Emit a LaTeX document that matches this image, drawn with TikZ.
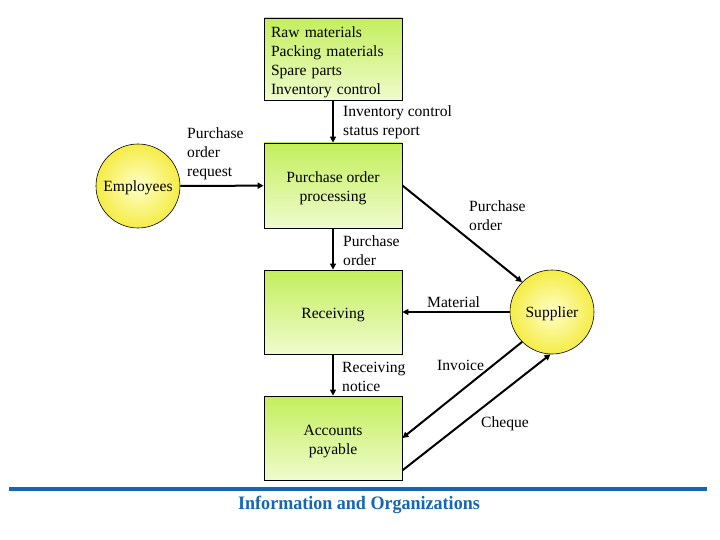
\documentclass[tikz,border=0pt]{standalone}
\usepackage{fontspec}
\usepackage{graphicx}
\setmainfont{Liberation Serif}
\usetikzlibrary{arrows.meta}
\definecolor{boxtop}{RGB}{196,238,92}
\definecolor{boxbot}{RGB}{238,252,205}
\definecolor{ballin}{RGB}{255,255,200}
\definecolor{ballout}{RGB}{245,236,70}
\definecolor{titleblue}{RGB}{22,102,180}
\newcommand{\boxtxt}[2]{\raisebox{-3pt}[\height][\depth]{\begin{tabular}{@{}#1@{}}#2\end{tabular}}}
\newcommand{\balltxt}[1]{\raisebox{-2pt}[\height][\depth]{#1}}
\begin{document}
\begin{tikzpicture}[x=1pt,y=-1pt,
  font=\fontsize{15.6}{19}\selectfont,
  proc/.style={draw=black, line width=0.8pt, top color=boxtop, bottom color=boxbot,
    minimum width=138pt, minimum height=84pt, inner sep=0pt, align=center},
  ent/.style={circle, draw=black, line width=0.6pt, inner color=ballin, outer color=ballout,
    minimum size=84pt, inner sep=0pt},
  flow/.style={line width=2pt, -{Triangle[length=6pt,width=6pt]}},
  lab/.style={anchor=north west, inner sep=0pt, align=left}]
\fill[white] (0,0) rectangle (720,540);
\useasboundingbox (0,0) rectangle (720,540);

\node[proc, minimum height=82pt, text width=124pt, align=left] (inv) at (333,59)
  {\boxtxt{l}{Raw materials\\Packing materials\\Spare parts\\Inventory control}};
\node[proc, minimum height=85pt] (po) at (333,185.5) {\boxtxt{c}{Purchase order\\processing}};
\node[proc] (rec) at (333,312) {\boxtxt{c}{Receiving}};
\node[proc] (ap) at (333,438) {\boxtxt{c}{Accounts\\payable}};
\node[ent] (emp) at (138,186) {\balltxt{Employees}};
\node[ent] (sup) at (552,312) {\balltxt{Supplier}};

\draw[flow] (emp) -- (po);
\draw[flow] (inv) -- (po);
\draw[flow] (po) -- (rec);
\draw[flow] (rec) -- (ap);
\draw[flow] (po.east) -- (sup.135);
\draw[flow] (sup) -- (rec);
\draw[flow] (sup.225) -- (ap.east);
\draw[flow] ([yshift=10pt]ap.south east) -- (sup.268);

\node[lab] (l1) at (187,127) {Purchase\\order\\request};
\node[lab] (l2) at (343,105) {Inventory control\\status report};
\node[lab] (l3) at (343,235) {Purchase\\order};
\node[lab] (l4) at (469,200) {Purchase\\order};
\node[lab] (l5) at (427,296) {Material};
\node[lab] (l6) at (437,360) {Invoice};
\node[lab] (l7) at (481,416) {Cheque};
\node[lab] (l8) at (342,362) {Receiving\\notice};

\draw[titleblue, line width=4pt] (9,489) -- (707,489);
\node[font=\bfseries\fontsize{19}{22}\selectfont, text=titleblue, anchor=base, inner sep=0pt] (title) at (359,509)
  {\scalebox{0.95}[1]{Information and Organizations}};
\end{tikzpicture}
\end{document}
